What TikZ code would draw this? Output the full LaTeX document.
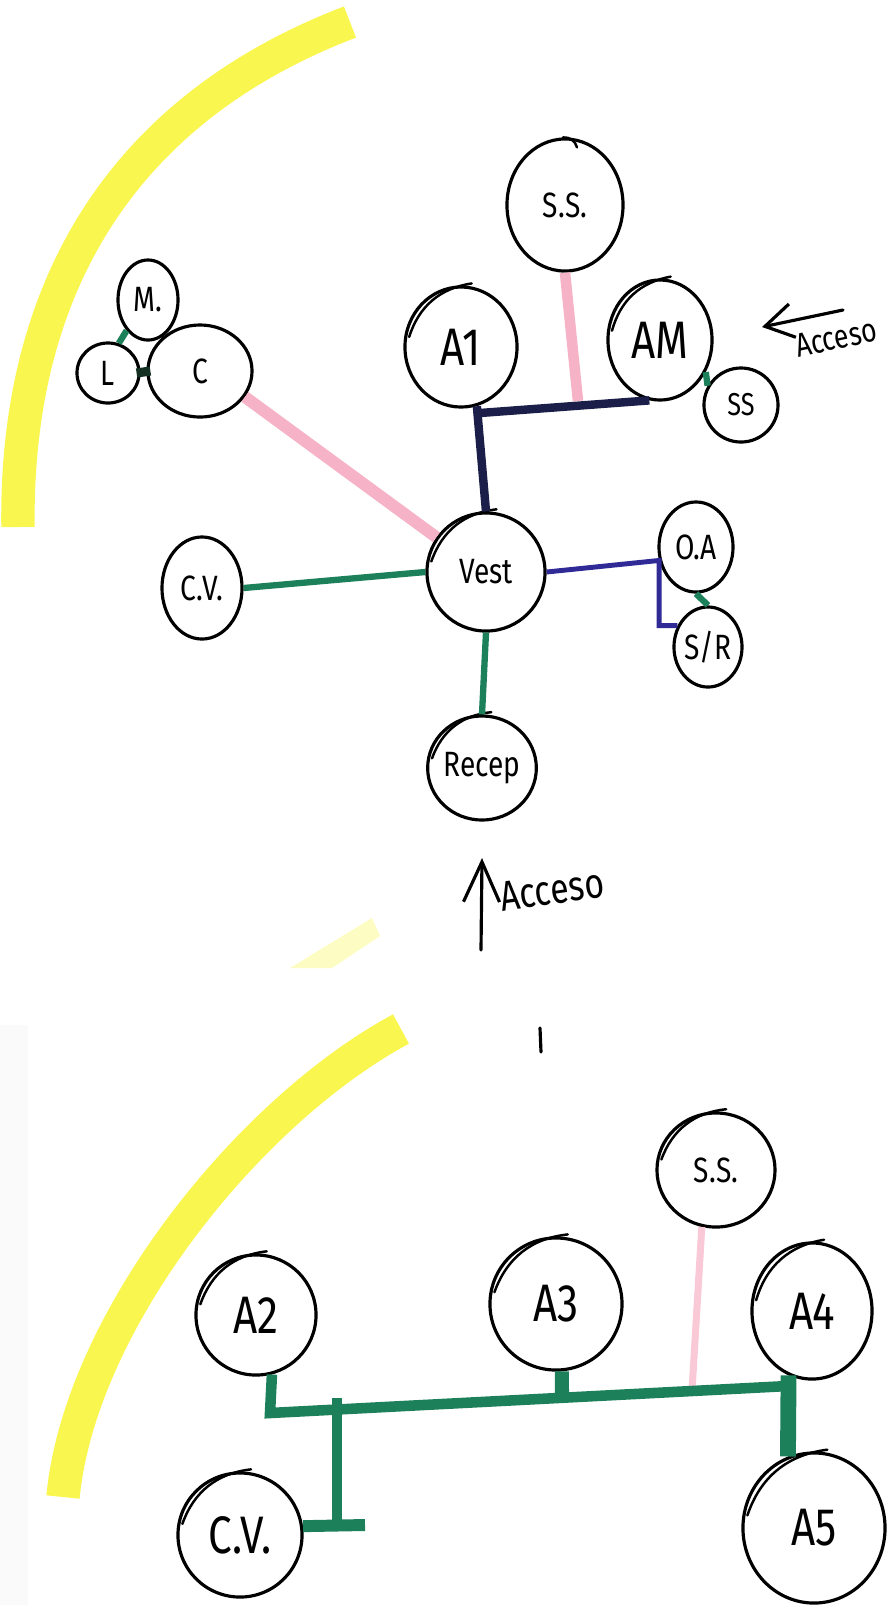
\documentclass[tikz,border=0pt]{standalone}
\usepackage{fontspec}
\setmainfont{Fira Sans}[FakeStretch=0.8]
\usetikzlibrary{arrows.meta,shapes.geometric}
\definecolor{felt}{RGB}{28,128,90}
\definecolor{navyfelt}{RGB}{26,30,72}
\definecolor{bluefelt}{RGB}{48,42,150}
\definecolor{darkfelt}{RGB}{20,48,34}
\definecolor{rosefelt}{RGB}{246,178,198}
\definecolor{hilite}{RGB}{250,246,80}
\tikzset{
  room/.style={draw, ellipse, line width=0.9pt, inner sep=0pt,
               font=\fontsize{10}{10}\selectfont},
  bigroom/.style={room, font=\fontsize{15}{15}\selectfont},
  smallroom/.style={room, font=\fontsize{9}{9}\selectfont},
  dims/.style 2 args={minimum width=#1cm, minimum height=#2cm},
  greenwire/.style={felt, line width=1.8pt},
  busline/.style={felt, line width=3pt},
  navywire/.style={navyfelt, line width=2.4pt},
  bluewire/.style={bluefelt, line width=1.4pt},
  pinkwire/.style={rosefelt, line width=3pt},
  hiliter/.style={hilite, line width=9.5pt},
  pen/.style={line width=0.9pt, line cap=round},
  note/.style={font=\fontsize{9.5}{10}\selectfont, inner sep=0pt},
}
% second pen stroke over the top left of a room
\newcommand{\restroke}[1]{%
  \draw[pen, line width=0.7pt] ([xshift=0.05cm]#1.170) to[bend left=32] ([yshift=0.03cm]#1.80);}

\begin{document}
\begin{tikzpicture}[x=0.01cm, y=-0.01cm]
  \useasboundingbox (0,0) rectangle (891,1605);
  \fill[gray!4] (0,1025) rectangle (28,1605);

  % highlighter strokes
  \draw[hiliter] (350,22) .. controls (120,110) and (15,290) .. (18,527);
  \fill[hilite!35] (290,968) -- (372,918) -- (380,936) -- (332,968) -- cycle;
  \draw[hiliter] (401,1029) .. controls (250,1110) and (80,1320) .. (63,1497);

  % upper floor
  \node[room, dims={1.16}{1.32}] (sstop) at (565,205) {S.S.};
  \node[bigroom, dims={1.12}{1.20}] (aone) at (461,347) {A1};
  \node[bigroom, dims={1.04}{1.20}] (amain) at (660,340) {AM};
  \node[smallroom, dims={0.74}{0.74}] (ssmall) at (741,405) {SS};
  \node[room, dims={0.60}{0.80}] (mm) at (148,300) {M.};
  \node[room, dims={0.62}{0.60}] (ll) at (108,373) {L};
  \node[room, dims={1.04}{0.92}] (cc) at (200,371) {C};
  \node[room, dims={0.80}{1.02}] (cvtop) at (202,588) {C.V.};
  \node[room, dims={1.18}{1.18}] (vest) at (486,572) {Vest};
  \node[room, dims={0.74}{0.90}] (oa) at (696,547) {O.A};
  \node[room, dims={0.68}{0.80}] (sr) at (708,647) {S/R};
  \node[room, dims={1.04}{1.04}] (recep) at (482,768) {Recep};
  \restroke{aone}
  \restroke{amain}
  \restroke{vest}
  \restroke{recep}
  \draw[pen, line width=0.7pt] ([xshift=-0.02cm]sstop.north) to[bend left=40] ([xshift=0.12cm, yshift=-0.1cm]sstop.north);

  \coordinate (navyjoin) at (480,413);
  \coordinate (pinkjoin) at (578,401);
  \draw[pinkwire] (sstop.south) -- (pinkjoin);
  \draw[navywire] (aone.-75) -- (vest.north);
  \draw[navywire] (navyjoin) -- (amain.-100);
  \draw[greenwire] (amain.-35) -- (ssmall.150);
  \draw[bluewire] (vest.east) -- (oa.200) |- (sr.145);
  \draw[greenwire] (oa.south) -- (sr.north);
  \draw[greenwire] (vest.south) -- (recep.north);
  \draw[greenwire] (cvtop.east) -- (vest.west);
  \draw[greenwire] (mm.235) -- (ll.70);
  \draw[darkfelt, line width=2.6pt] ([xshift=-0.04cm]ll.east) -- ([xshift=0.04cm]cc.west);
  \draw[pinkwire, line width=3.4pt] (cc.-30) -- (vest.145);

  % entrances
  \coordinate (inE) at (843,310);
  \coordinate (tipE) at (762,327);
  \draw[pen, -{Straight Barb[length=2.8mm, width=3.4mm]}] (inE) -- (tipE);
  \node[note, rotate=12] (accE) at (836,338) {Acceso};
  \coordinate (inS) at (481,950);
  \coordinate (tipS) at (482,858);
  \draw[pen, -{Straight Barb[length=4mm, width=3.6mm]}] (inS) -- (tipS);
  \node[note, font=\fontsize{12}{12}\selectfont, rotate=8] (accS) at (552,890) {Acceso};
  \draw[pen] (540,1028) -- (541,1052);

  % lower floor
  \node[room, dims={1.18}{1.14}] (ssbot) at (716,1170) {S.S.};
  \node[bigroom, dims={1.20}{1.20}] (atwo) at (256,1315) {A2};
  \node[bigroom, dims={1.32}{1.32}] (athree) at (556,1304) {A3};
  \node[bigroom, dims={1.20}{1.36}] (afour) at (812,1311) {A4};
  \node[bigroom, dims={1.42}{1.50}] (afive) at (814,1528) {A5};
  \node[bigroom, dims={1.24}{1.24}] (cvbot) at (240,1535) {C.V.};
  \restroke{ssbot}
  \restroke{atwo}
  \restroke{athree}
  \restroke{afour}
  \restroke{afive}
  \restroke{cvbot}

  \coordinate (busl) at (270,1413);
  \coordinate (busr) at (788,1386);
  \coordinate (busm) at (562,1398);
  \coordinate (busp) at (692,1391);
  \coordinate (trunktop) at (337,1398);
  \coordinate (trunkbot) at (337,1527);
  \coordinate (stubend) at (365,1525);
  \draw[pinkwire, rosefelt!70, line width=2pt] (ssbot.-104) -- (busp);
  \draw[busline] (atwo.-75) -- (busl) -- (busr);
  \draw[busline, line width=4pt] (athree.-85) -- (busm);
  \draw[busline, line width=4.5pt] (afour.-110) -- (afive.110);
  \draw[busline] (trunktop) -- (trunkbot);
  \draw[busline, line width=3.4pt] (cvbot.8) -- (stubend);
\end{tikzpicture}
\end{document}
